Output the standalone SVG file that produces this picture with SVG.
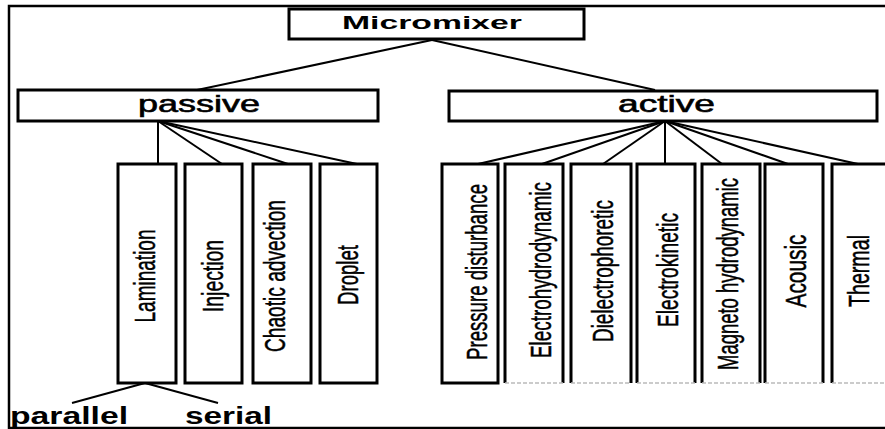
<svg xmlns="http://www.w3.org/2000/svg" width="885" height="429" viewBox="0 0 885 429">
<style>
.frame{fill:none;stroke:#000;stroke-width:2.5}
.box{fill:#fff;stroke:#000;stroke-width:3}
.open{fill:none;stroke:#000;stroke-width:3}
.soft{fill:none;stroke:#bbb;stroke-width:1.5;stroke-dasharray:4 2}
.conn line{stroke:#000;stroke-width:2}
.h{font-family:"Liberation Sans",Arial,sans-serif;fill:#000}
.m{stroke:#000;stroke-width:0.6}
.v{font-family:"Liberation Sans",Arial,sans-serif;font-size:30px;fill:#000;stroke:#000;stroke-width:0.5;text-anchor:middle}
</style>
<rect width="885" height="429" fill="#fff"/>
<path class="frame" d="M885,6 H9 V428 H885"/>

<g class="conn">
<line x1="432" y1="40" x2="197" y2="90"/>
<line x1="432" y1="40" x2="655" y2="90"/>
<line x1="158" y1="121" x2="158" y2="164"/>
<line x1="158" y1="121" x2="222" y2="164"/>
<line x1="158" y1="121" x2="288" y2="164"/>
<line x1="158" y1="121" x2="357" y2="164"/>
<line x1="665" y1="121" x2="478" y2="164"/>
<line x1="665" y1="121" x2="542" y2="164"/>
<line x1="665" y1="121" x2="603" y2="164"/>
<line x1="665" y1="121" x2="665" y2="164"/>
<line x1="665" y1="121" x2="722" y2="164"/>
<line x1="665" y1="121" x2="788" y2="164"/>
<line x1="665" y1="121" x2="858" y2="164"/>
<line x1="145" y1="383" x2="72" y2="403"/>
<line x1="145" y1="383" x2="218" y2="403"/>
</g>

<g id="micromixer">
<rect class="box" x="289" y="9" width="295" height="30"/>
<text class="h" x="342" y="29" font-size="19" font-weight="bold" textLength="180" lengthAdjust="spacingAndGlyphs">Micromixer</text>
</g>

<g id="passive">
<rect class="box" x="18" y="90" width="360" height="31"/>
<text class="h m" x="138" y="112" font-size="24" textLength="122" lengthAdjust="spacingAndGlyphs">passive</text>
</g>

<g id="active">
<rect class="box" x="449" y="91" width="428" height="30"/>
<text class="h m" x="618" y="112" font-size="24" textLength="97" lengthAdjust="spacingAndGlyphs">active</text>
</g>

<g id="lamination">
<rect class="box" x="118" y="164" width="58" height="219"/>
<text class="v" transform="translate(155,276) rotate(-90)" textLength="93" lengthAdjust="spacingAndGlyphs">Lamination</text>
</g>
<g id="injection">
<rect class="box" x="185" y="164" width="57" height="219"/>
<text class="v" transform="translate(223,276) rotate(-90)" textLength="72" lengthAdjust="spacingAndGlyphs">Injection</text>
</g>
<g id="chaotic">
<rect class="box" x="253" y="164" width="58" height="219"/>
<text class="v" transform="translate(285,276) rotate(-90)" textLength="152" lengthAdjust="spacingAndGlyphs">Chaotic advection</text>
</g>
<g id="droplet">
<rect class="box" x="320" y="164" width="57" height="219"/>
<text class="v" transform="translate(358,275) rotate(-90)" textLength="60" lengthAdjust="spacingAndGlyphs">Droplet</text>
</g>

<g id="pressure">
<rect class="box" x="442" y="164" width="56" height="219"/>
<text class="v" transform="translate(487,272) rotate(-90)" textLength="176" lengthAdjust="spacingAndGlyphs">Pressure disturbance</text>
</g>
<g id="electrohydrodynamic">
<path class="open" d="M505,383 V164 H563 V383"/>
<line class="soft" x1="505" y1="383" x2="563" y2="383"/>
<text class="v" transform="translate(551,270) rotate(-90)" textLength="176" lengthAdjust="spacingAndGlyphs">Electrohydrodynamic</text>
</g>
<g id="dielectrophoretic">
<path class="open" d="M571,383 V164 H631 V383"/>
<line class="soft" x1="571" y1="383" x2="631" y2="383"/>
<text class="v" transform="translate(613,271) rotate(-90)" textLength="142" lengthAdjust="spacingAndGlyphs">Dielectrophoretic</text>
</g>
<g id="electrokinetic">
<path class="open" d="M637,383 V164 H695 V383"/>
<line class="soft" x1="637" y1="383" x2="695" y2="383"/>
<text class="v" transform="translate(678,270) rotate(-90)" textLength="114" lengthAdjust="spacingAndGlyphs">Electrokinetic</text>
</g>
<g id="magneto">
<path class="open" d="M702,383 V164 H760 V383"/>
<line class="soft" x1="702" y1="383" x2="760" y2="383"/>
<text class="v" transform="translate(738,274) rotate(-90)" textLength="192" lengthAdjust="spacingAndGlyphs">Magneto hydrodynamic</text>
</g>
<g id="acousic">
<path class="open" d="M765,383 V164 H823 V383"/>
<line class="soft" x1="765" y1="383" x2="823" y2="383"/>
<text class="v" transform="translate(806,271) rotate(-90)" textLength="73" lengthAdjust="spacingAndGlyphs">Acousic</text>
</g>
<g id="thermal">
<path class="open" d="M832,383 V164 H887"/>
<line class="soft" x1="832" y1="383" x2="885" y2="383"/>
<text class="v" transform="translate(869,271) rotate(-90)" textLength="72" lengthAdjust="spacingAndGlyphs">Thermal</text>
</g>

<g id="parallel">
<text class="h" x="10" y="424" font-size="23" font-weight="bold" textLength="118" lengthAdjust="spacingAndGlyphs">parallel</text>
</g>
<g id="serial">
<text class="h" x="185" y="424" font-size="23" font-weight="bold" textLength="87" lengthAdjust="spacingAndGlyphs">serial</text>
</g>
</svg>
